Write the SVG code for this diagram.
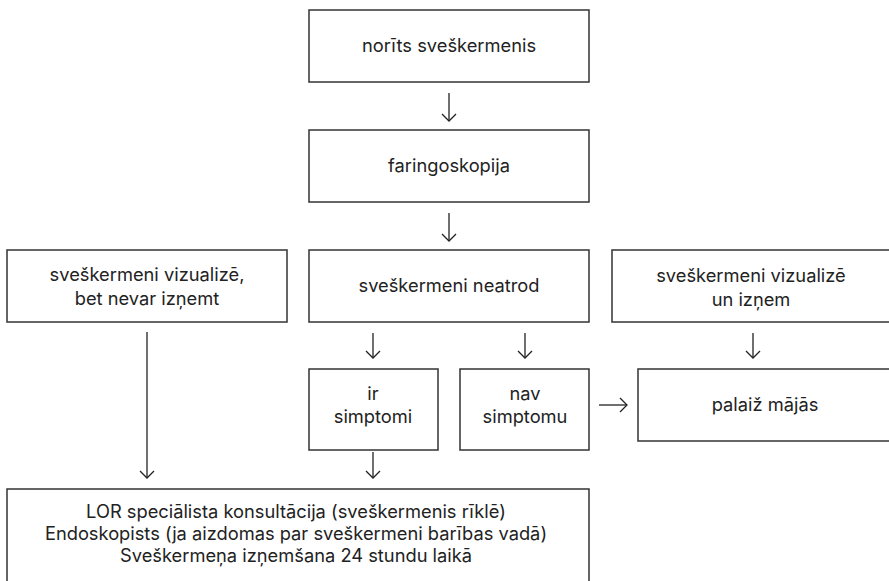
<svg xmlns="http://www.w3.org/2000/svg" width="889" height="581" viewBox="0 0 889 581">
<defs>
<style>
.box{fill:#fff;stroke:#333;stroke-width:1.5}
.t{font-family:Inter,"Liberation Sans",sans-serif;font-size:18.3px;fill:#222;text-anchor:middle}
.c{stroke:#222;stroke-width:1.3;fill:none}
</style>
<marker id="ah" markerWidth="16" markerHeight="16" refX="8" refY="8" orient="auto" markerUnits="userSpaceOnUse">
<path d="M1,1 L8,8 L1,15" fill="none" stroke="#222" stroke-width="1.3"/>
</marker>
</defs>
<rect width="889" height="581" fill="#fff"/>
<g id="n1"><rect class="box" x="309" y="10" width="280" height="72"/><text class="t" x="449" y="52">norīts sveškermenis</text></g>
<g id="n2"><rect class="box" x="309" y="130" width="280" height="72"/><text class="t" x="449" y="172">faringoskopija</text></g>
<g id="n3"><rect class="box" x="7" y="250" width="280" height="72"/><text class="t" x="147" y="281">sveškermeni vizualizē,</text><text class="t" x="147" y="305">bet nevar izņemt</text></g>
<g id="n4"><rect class="box" x="309" y="250" width="280" height="72"/><text class="t" x="449" y="292">sveškermeni neatrod</text></g>
<g id="n5"><rect class="box" x="612" y="250" width="278" height="72"/><text class="t" x="751" y="282">sveškermeni vizualizē</text><text class="t" x="751" y="306">un izņem</text></g>
<g id="n6"><rect class="box" x="309" y="369" width="129" height="81"/><text class="t" x="373" y="400">ir</text><text class="t" x="373" y="423">simptomi</text></g>
<g id="n7"><rect class="box" x="460" y="369" width="129" height="81"/><text class="t" x="525" y="400">nav</text><text class="t" x="525" y="423">simptomu</text></g>
<g id="n8"><rect class="box" x="638" y="369" width="252" height="72"/><text class="t" x="765" y="411">palaiž mājās</text></g>
<g id="n9"><rect class="box" x="7" y="489" width="582" height="110"/><text class="t" x="296" y="518">LOR speciālista konsultācija (sveškermenis rīklē)</text><text class="t" x="296" y="540">Endoskopists (ja aizdomas par sveškermeni barības vadā)</text><text class="t" x="296" y="562">Sveškermeņa izņemšana 24 stundu laikā</text></g>
<g id="connectors">
<line class="c" x1="449" y1="93" x2="449" y2="121" marker-end="url(#ah)"/>
<line class="c" x1="449" y1="213" x2="449" y2="241" marker-end="url(#ah)"/>
<line class="c" x1="373" y1="333" x2="373" y2="358" marker-end="url(#ah)"/>
<line class="c" x1="525" y1="333" x2="525" y2="358" marker-end="url(#ah)"/>
<line class="c" x1="753" y1="333" x2="753" y2="358" marker-end="url(#ah)"/>
<line class="c" x1="147" y1="332" x2="147" y2="478" marker-end="url(#ah)"/>
<line class="c" x1="373" y1="452" x2="373" y2="478" marker-end="url(#ah)"/>
<line class="c" x1="599" y1="405" x2="627" y2="405" marker-end="url(#ah)"/>
</g>
</svg>
